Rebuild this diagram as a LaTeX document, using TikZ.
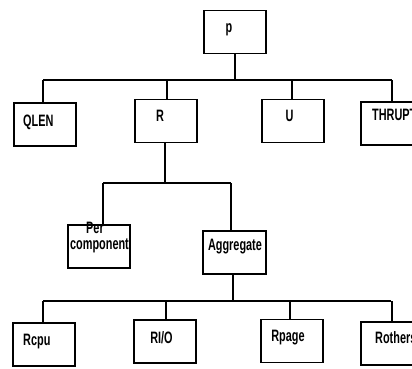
\documentclass[tikz,border=0pt]{standalone}
\usepackage{fontspec}
\setmainfont[FakeStretch=0.66]{Liberation Sans}
\begin{document}
\begin{tikzpicture}[x=1pt,y=-1pt,
  box/.style={draw,line width=1.3pt,minimum width=62pt,minimum height=43pt,inner sep=0pt},
  txt/.style={inner sep=0pt,font=\fontsize{16.5}{17}\selectfont\bfseries},
  link/.style={line width=1.3pt}]
\useasboundingbox (0,0) rectangle (412,369);
\clip (0,0) rectangle (412,369);
% boxes
\node[box] (p) at (235,32) {};
\node[box] (qlen) at (45,124.5) {};
\node[box] (r) at (166,121) {};
\node[box] (u) at (293,121) {};
\node[box] (thrupt) at (392,123.5) {};
\node[box] (per) at (99,246.5) {};
\node[box,minimum width=63pt] (agg) at (234.5,252.5) {};
\node[box] (rcpu) at (44,344.5) {};
\node[box] (rio) at (165,341.5) {};
\node[box] (rpage) at (292,341) {};
\node[box] (rothers) at (392,343.5) {};
% texts
\node[txt] (tp) at (229,30) {p};
\node[txt,anchor=west] (tqlen) at (23,122) {QLEN};
\node[txt] (tr) at (160,116) {R};
\node[txt] (tu) at (289.5,116) {U};
\node[txt,anchor=west] (tthrupt) at (372,115) {THRUPT};
\node[txt] (tper1) at (95,228) {Per};
\node[txt] (tper2) at (99.5,246) {component};
\node[txt] (tagg) at (235,247) {Aggregate};
\node[txt,anchor=west] (trcpu) at (23,342) {Rcpu};
\node[txt] (trio) at (161.5,338) {RI/O};
\node[txt] (trpage) at (288,338) {Rpage};
\node[txt,anchor=west] (trothers) at (375,338) {Rothers};
% buses
\coordinate (b1l) at (43,80);
\coordinate (b1r) at (392,80);
\coordinate (b2l) at (103,183);
\coordinate (b2r) at (231,183);
\coordinate (b3l) at (43,301);
\coordinate (b3r) at (391,301);
\draw[link] (b1l) -- (b1r);
\draw[link] (b2l) -- (b2r);
\draw[link] (b3l) -- (b3r);
\draw[link] (p.south) -- (p.south |- b1l);
\draw[link] (qlen.north -| b1l) -- (b1l);
\draw[link] ([xshift=1pt]r.north) -- ([xshift=1pt]r.north |- b1l);
\draw[link] ([xshift=-1pt]u.north) -- ([xshift=-1pt]u.north |- b1l);
\draw[link] (thrupt.north) -- (thrupt.north |- b1l);
\draw[link] ([xshift=-1pt]r.south) -- ([xshift=-1pt]r.south |- b2l);
\draw[link] (per.north -| b2l) -- (b2l);
\draw[link] (agg.north -| b2r) -- (b2r);
\draw[link] ([xshift=-1.5pt]agg.south) -- ([xshift=-1.5pt]agg.south |- b3l);
\draw[link] (rcpu.north -| b3l) -- (b3l);
\draw[link] ([xshift=1pt]rio.north) -- ([xshift=1pt]rio.north |- b3l);
\draw[link] ([xshift=-2pt]rpage.north) -- ([xshift=-2pt]rpage.north |- b3l);
\draw[link] (rothers.north) -- (rothers.north |- b3l);
\end{tikzpicture}
\end{document}
